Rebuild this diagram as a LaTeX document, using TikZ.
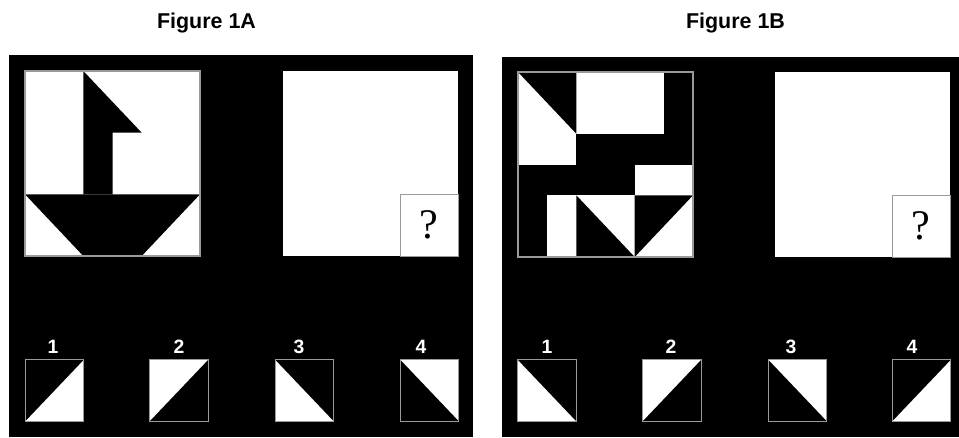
\documentclass[tikz,border=0pt]{standalone}
\usepackage{fontspec}
\setmainfont{Liberation Sans}
\newfontfamily\qmark{Liberation Serif}
\usetikzlibrary{positioning}
\definecolor{edge}{HTML}{9A9A9A}

\begin{document}
\begin{tikzpicture}[x=0.02cm,y=-0.02cm,every node/.style={inner sep=0pt},
  title/.style={font=\fontsize{12.2}{13}\selectfont\bfseries,anchor=base},
  num/.style={font=\fontsize{11}{12}\selectfont\bfseries,text=white},
  opt/.style={fill=white,minimum width=1.16cm,minimum height=1.22cm},
  qbox/.style={draw=edge,fill=white,line width=0.5pt,minimum width=1.16cm,minimum height=1.24cm,font=\qmark\fontsize{24}{25}\selectfont},
  frame/.style={draw=edge,line width=0.6pt}]
\useasboundingbox (0,0) rectangle (959,437);
\fill[white] (0,0) rectangle (959,437);
% the two black panels
\fill[black] (9,55) rectangle (473,437);
\fill[black] (502,57) rectangle (959,437);
\node[title] (ta) at (206.5,28.5) {Figure 1A};
\node[title] (tb) at (735.5,28.5) {Figure 1B};
% figure 1A: the boat
\fill[white] (25,71) rectangle (200,256);
\fill[black] (83.3,194.3) -- (83.3,71) -- (141.7,132.7) -- (112.5,132.7) -- (112.5,194.3) -- cycle;
\fill[black] (25,194.3) -- (200,194.3) -- (141.7,256) -- (83.3,256) -- cycle;
\draw[frame] (25,71) rectangle (200,256);
\fill[white] (283,71) rectangle (458,256);
\node[qbox] (qa) at (429,225) {?};
% figure 1B: the pattern
\fill[white] (518,72) rectangle (693,257);
\fill[black] (518,72) -- (576.3,72) -- (576.3,133.7) -- cycle;
\fill[black] (663.8,72) rectangle (693,133.7);
\fill[black] (576.3,133.7) rectangle (693,164.5);
\fill[black] (518,164.5) rectangle (634.7,195.3);
\fill[black] (518,195.3) rectangle (547.2,257);
\fill[black] (576.3,195.3) -- (576.3,257) -- (634.7,257) -- cycle;
\fill[black] (634.7,195.3) -- (693,195.3) -- (634.7,257) -- cycle;
\draw[frame] (518,72) rectangle (693,257);
\fill[white] (775,72) rectangle (950,257);
\node[qbox] (qb) at (921,226) {?};
% answer choices
\foreach \n/\x/\lx in {1/54.5/53,2/179/179,3/304.5/299,4/429.5/421}{
  \node[opt] (a\n) at (\x,390.5) {};
  \node[num] (la\n) at (\lx,347) {\n};
}
\foreach \n/\x/\lx in {1/547/547,2/672/671,3/797.5/791,4/921.5/912}{
  \node[opt] (b\n) at (\x,390.5) {};
  \node[num] (lb\n) at (\lx,347) {\n};
}
\foreach \o/\p/\q/\r in {a1/north west/north east/south west,a2/north east/south east/south west,
  a3/north west/north east/south east,a4/north west/south east/south west,
  b1/north west/north east/south east,b2/north east/south east/south west,
  b3/north west/south west/south east,b4/north west/north east/south west}{
  \fill[black] (\o.\p) -- (\o.\q) -- (\o.\r) -- cycle;
  \draw[frame] (\o.south west) rectangle (\o.north east);
}
\end{tikzpicture}
\end{document}
